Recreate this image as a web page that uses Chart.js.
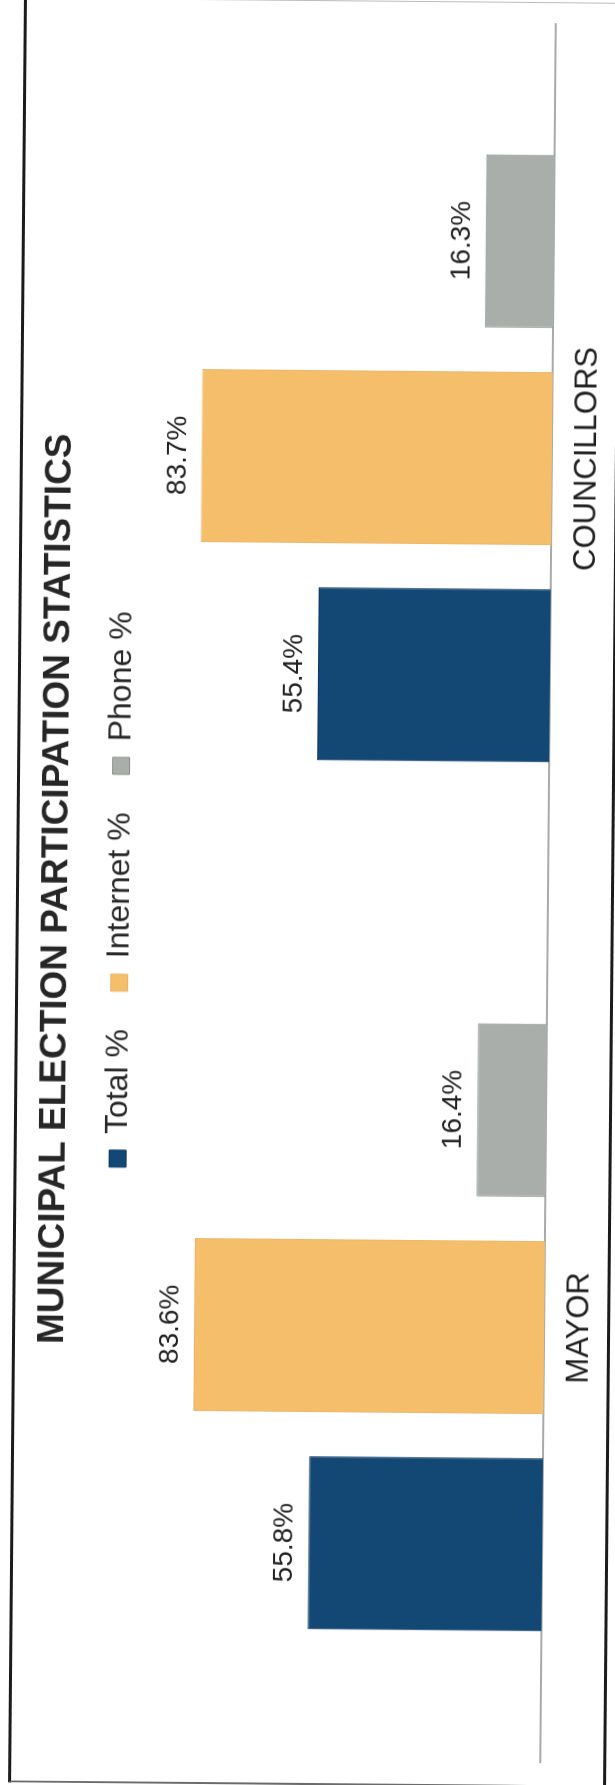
<!DOCTYPE html>
<html>
<head>
<meta charset="utf-8">
<title>Municipal Election Participation Statistics</title>
<script src="https://cdn.jsdelivr.net/npm/chart.js@4.4.1/dist/chart.umd.min.js"></script>
<style>
    html, body { margin: 0; padding: 0; background: #fff; overflow: hidden; }
    body { position: relative; width: 615px; height: 1785px; }
    /* the sheet is laid out landscape and turned a quarter turn so it reads bottom-to-top */
    #sheet {
        position: absolute;
        left: -585px;
        top: 585px;
        width: 1785px;
        height: 615px;
        transform: rotate(-89.49deg);
        transform-origin: 50% 50%;
        background: #fff;
    }
    #frame {
        position: absolute;
        left: 0;
        top: 16px;
        width: 1785px;
        height: 598px;
        box-sizing: border-box;
        border-top: 3px solid #1b1b1b;
        border-bottom: 3px solid #1b1b1b;
        border-left: 2px solid #6b6b6b;
        border-right: 1px solid #bbbbbb;
    }
    #participation-chart { position: absolute; left: 0; top: 0; }
</style>
</head>
<body>
<div id="sheet">
    <div id="frame"></div>
    <canvas id="participation-chart" width="1785" height="615"></canvas>
</div>
<script>
const categories = ['MAYOR', 'COUNCILLORS'];
const seriesNames = ['Total %', 'Internet %', 'Phone %'];
const totalPct = [55.8, 55.4];
const internetPct = [83.6, 83.7];
const phonePct = [16.4, 16.3];

const FONT = '"Liberation Sans", Arial, sans-serif';
Chart.defaults.font.family = FONT;

// percentage printed just above each bar end
const barValueLabels = {
    id: 'barValueLabels',
    afterDatasetsDraw(chart) {
        const { ctx } = chart;
        ctx.save();
        ctx.font = `28px ${FONT}`;
        ctx.fillStyle = '#1f1f1f';
        ctx.textAlign = 'center';
        ctx.textBaseline = 'alphabetic';
        chart.data.datasets.forEach((ds, i) => {
            chart.getDatasetMeta(i).data.forEach((bar, j) => {
                ctx.fillText(`${ds.data[j].toFixed(1)}%`, bar.x, bar.y - 16);
            });
        });
        ctx.restore();
    },
};

const makeSeries = (label, data, fill, edge) => ({
    label,
    data,
    backgroundColor: fill,
    borderColor: edge,
    borderWidth: 1,
    categoryPercentage: 0.75,
    barPercentage: 0.797,
});

const chartEl = document.getElementById('participation-chart');
new Chart(chartEl.getContext('2d'), {
    type: 'bar',
    data: {
        labels: categories,
        datasets: [
            makeSeries(seriesNames[0], totalPct, '#124873', '#0d3468'),
            makeSeries(seriesNames[1], internetPct, '#f5be6b', '#ecb262'),
            makeSeries(seriesNames[2], phonePct, '#a9aeaa', '#8c918d'),
        ],
    },
    options: {
        responsive: false,
        animation: false,
        layout: { padding: { left: 25, right: 22, top: 0, bottom: 0 } },
        plugins: {
            title: {
                display: true,
                text: 'MUNICIPAL ELECTION PARTICIPATION STATISTICS',
                color: '#262626',
                font: { size: 37, weight: 'bold', lineHeight: 0.5 },
                padding: { top: 47.5, bottom: 0 },
            },
            legend: {
                labels: {
                    color: '#262626',
                    font: { size: 32 },
                    boxWidth: 17,
                    boxHeight: 17,
                    padding: 38,
                },
            },
            tooltip: { enabled: false },
        },
        scales: {
            x: {
                grid: { display: false, drawTicks: false },
                border: { display: true, color: '#a9a9a9', width: 2 },
                ticks: { color: '#1f1f1f', font: { size: 31 }, padding: 17 },
                afterFit: (scale) => { scale.height = 67; },
            },
            y: {
                display: false,
                min: 0,
                max: 96,
            },
        },
    },
    plugins: [barValueLabels],
});
</script>
</body>
</html>
